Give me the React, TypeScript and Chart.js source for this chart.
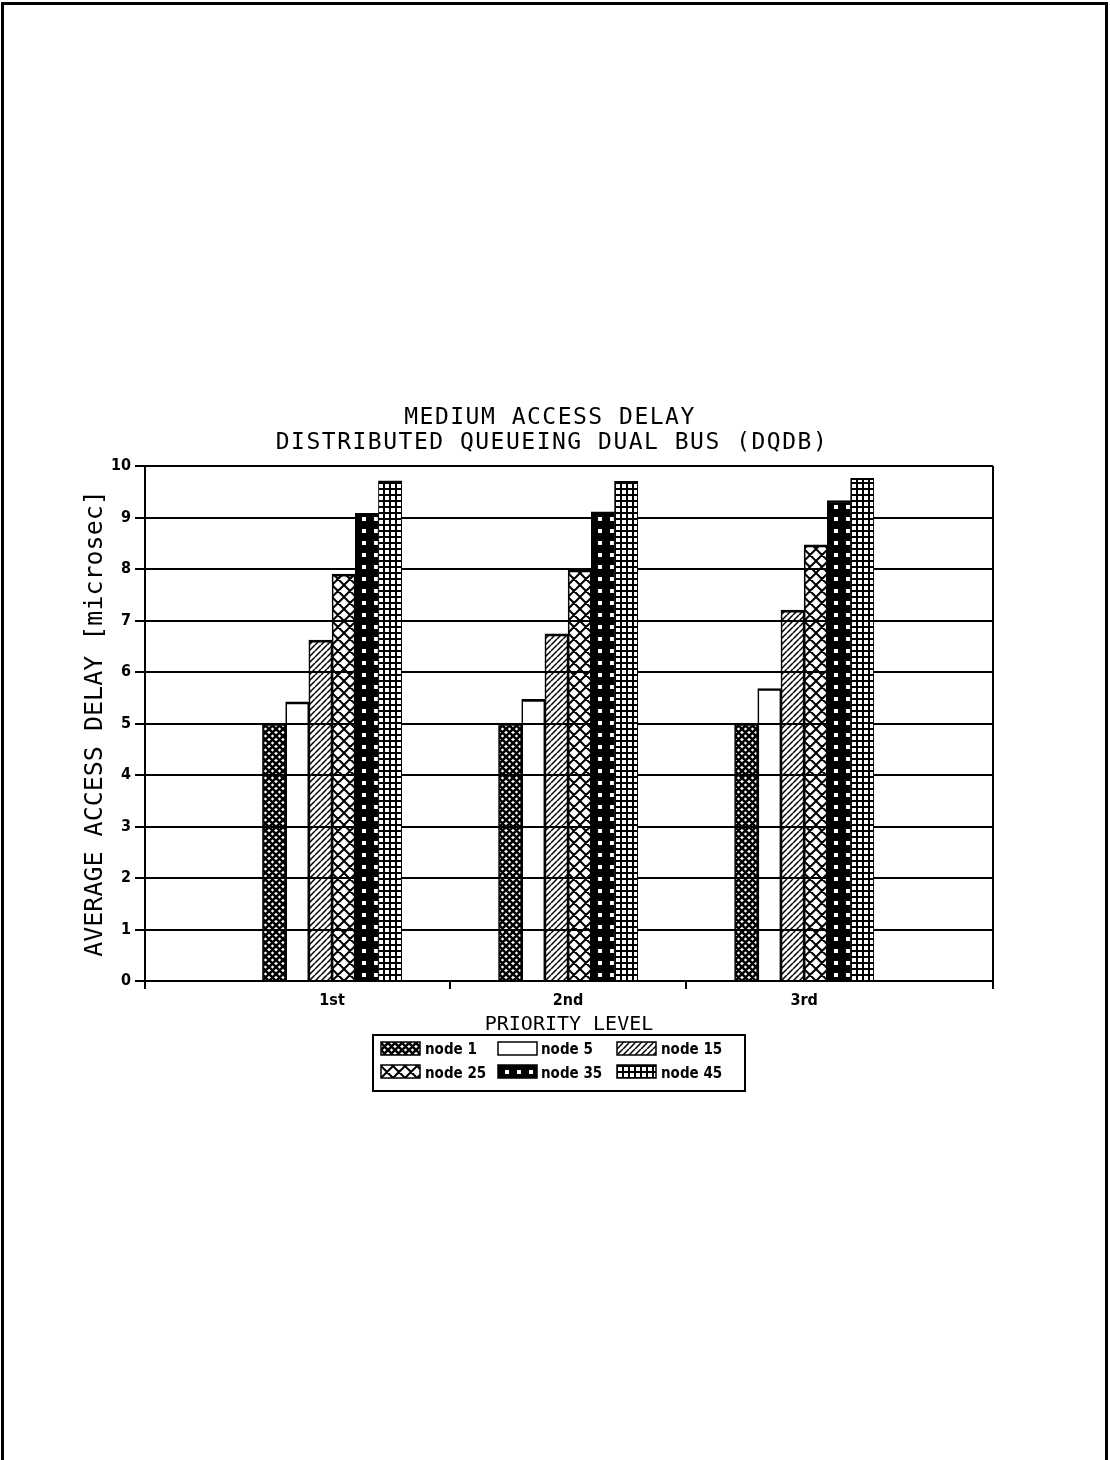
import React, { useEffect, useRef } from 'react';
import { Chart, registerables } from 'chart.js';

Chart.register(...registerables);

// ---- data ----
const priorityLevels = ['1st', '2nd', '3rd'];
const levelPositions = [1, 2, 3];
const seriesNames = ['node 1', 'node 5', 'node 15', 'node 25', 'node 35', 'node 45'];
const node1Delay = [5.0, 5.0, 5.0];
const node5Delay = [5.42, 5.47, 5.68];
const node15Delay = [6.62, 6.74, 7.2];
const node25Delay = [7.9, 7.98, 8.47];
const node35Delay = [9.08, 9.11, 9.33];
const node45Delay = [9.71, 9.7, 9.76];
const seriesValues = [node1Delay, node5Delay, node15Delay, node25Delay, node35Delay, node45Delay];
const xTickValues = [0.2076, 1, 1.5, 2, 2.5, 3, 3.8];
const titleLines = ['MEDIUM ACCESS DELAY', 'DISTRIBUTED QUEUEING DUAL BUS (DQDB)'];
const xAxisTitle = 'PRIORITY LEVEL';
const yAxisTitle = 'AVERAGE ACCESS DELAY [microsec]';

// ---- styles ----
type FillKind = 'denseCross' | 'empty' | 'hatch' | 'bigCross' | 'dots' | 'grid';
const seriesFills: FillKind[] = ['denseCross', 'empty', 'hatch', 'bigCross', 'dots', 'grid'];

const PAGE_W = 1110;
const PAGE_H = 1460;
const MONO = "'DejaVu Sans Mono', 'Liberation Mono', monospace";
const LABEL_FONT = "'DejaVu Sans Condensed', 'DejaVu Sans', sans-serif";
const INK = '#000';

function diagonals(g: CanvasRenderingContext2D, w: number, h: number, both: boolean) {
  g.beginPath();
  for (let k = -1; k <= 1; k++) {
    g.moveTo(k * w, h);
    g.lineTo(k * w + w, 0);
    if (both) {
      g.moveTo(k * w, 0);
      g.lineTo(k * w + w, h);
    }
  }
  g.stroke();
}

function makeFill(kind: FillKind): CanvasPattern | string {
  if (kind === 'empty') return 'rgba(255,255,255,0)';
  const size: Record<string, [number, number]> = {
    denseCross: [7, 7],
    hatch: [6, 6],
    bigCross: [12, 12],
    dots: [12, 12],
    grid: [6, 6],
  };
  const [w, h] = size[kind];
  const c = document.createElement('canvas');
  c.width = w;
  c.height = h;
  const g = c.getContext('2d')!;
  g.strokeStyle = INK;
  g.fillStyle = INK;
  if (kind === 'denseCross') {
    g.lineWidth = 2.6;
    diagonals(g, w, h, true);
  } else if (kind === 'hatch') {
    g.lineWidth = 1.5;
    diagonals(g, w, h, false);
  } else if (kind === 'bigCross') {
    g.lineWidth = 2;
    diagonals(g, w, h, true);
  } else if (kind === 'dots') {
    g.fillRect(0, 0, w, h);
    g.fillStyle = '#fff';
    g.fillRect(7, 4, 4, 4);
  } else if (kind === 'grid') {
    g.fillRect(0, 0, w, h);
    g.fillStyle = '#fff';
    g.fillRect(1, 1, 4, 4);
  }
  return g.createPattern(c, 'repeat')!;
}

function isPattern(v: unknown): v is CanvasPattern {
  return typeof CanvasPattern !== 'undefined' && v instanceof CanvasPattern;
}

// Anchor every bar's fill pattern at the bar's own lower-left corner.
const patternAnchor = {
  id: 'patternAnchor',
  beforeDatasetsDraw(chart: any) {
    const bottom = chart.chartArea.bottom;
    chart.data.datasets.forEach((_ds: any, di: number) => {
      const meta = chart.getDatasetMeta(di);
      meta.data.forEach((bar: any) => {
        const fill = bar.options && bar.options.backgroundColor;
        if (isPattern(fill)) {
          fill.setTransform(new DOMMatrix([1, 0, 0, 1, Math.round(bar.x - bar.width / 2), Math.round(bottom)]));
        }
      });
    });
  },
};

// Page frame, plot frame, title and pattern legend.
const decorations = {
  id: 'decorations',
  afterDraw(chart: any) {
    const ctx: CanvasRenderingContext2D = chart.ctx;
    const area = chart.chartArea;
    ctx.save();

    // right edge of the plot frame
    ctx.strokeStyle = INK;
    ctx.lineWidth = 2;
    ctx.beginPath();
    ctx.moveTo(area.right, area.top);
    ctx.lineTo(area.right, area.bottom);
    ctx.stroke();

    // page frame
    ctx.lineWidth = 3;
    ctx.beginPath();
    ctx.moveTo(2.5, PAGE_H);
    ctx.lineTo(2.5, 3.5);
    ctx.lineTo(1106.5, 3.5);
    ctx.lineTo(1106.5, PAGE_H);
    ctx.stroke();

    // title
    ctx.fillStyle = INK;
    ctx.font = `23px ${MONO}`;
    (ctx as any).letterSpacing = '1.5px';
    ctx.textAlign = 'center';
    ctx.textBaseline = 'alphabetic';
    ctx.fillText(titleLines[0], 550, 423.5);
    ctx.fillText(titleLines[1], 552, 448.5);
    (ctx as any).letterSpacing = '0px';

    // legend
    const box = { x: 373, y: 1035, w: 372, h: 56 };
    ctx.lineWidth = 2;
    ctx.strokeRect(box.x, box.y, box.w, box.h);
    const colSwatch = [381, 498, 617];
    const colText = [425, 541, 661];
    const rowTop = [1042, 1065];
    const rowBase = [1054, 1078];
    ctx.font = `bold 15px ${LABEL_FONT}`;
    ctx.textAlign = 'left';
    seriesNames.forEach((name, i) => {
      const col = i % 3;
      const row = Math.floor(i / 3);
      const sx = colSwatch[col];
      const sy = rowTop[row];
      const fill = makeFill(seriesFills[i]);
      if (isPattern(fill)) fill.setTransform(new DOMMatrix([1, 0, 0, 1, sx, sy + 1]));
      ctx.fillStyle = fill as any;
      ctx.fillRect(sx, sy, 39, 13);
      ctx.lineWidth = 1.5;
      ctx.strokeRect(sx, sy, 39, 13);
      ctx.fillStyle = INK;
      ctx.fillText(name, colText[col], rowBase[row]);
    });
    ctx.restore();
  },
};

export default function App() {
  const canvasRef = useRef<HTMLCanvasElement | null>(null);

  useEffect(() => {
    const canvas = canvasRef.current;
    if (!canvas) return;

    const datasets = seriesNames.map((name, s) => ({
      label: name,
      data: levelPositions.map((x, i) => ({ x, y: seriesValues[s][i] })),
      backgroundColor: levelPositions.map(() => makeFill(seriesFills[s])),
      borderColor: INK,
      borderWidth: { top: 2, left: 1, right: 1, bottom: 0 },
      borderSkipped: 'start',
      barThickness: 23.2,
    }));

    const tickFont = { family: LABEL_FONT, size: 16, weight: 'bold' as const };

    const chart = new Chart(canvas, {
      type: 'bar',
      data: { datasets } as any,
      plugins: [patternAnchor, decorations],
      options: {
        responsive: false,
        animation: false,
        devicePixelRatio: 1,
        layout: { padding: { left: 80, right: 117, top: 466, bottom: 423 } },
        plugins: {
          legend: { display: false },
          title: { display: false },
          tooltip: { enabled: false },
        },
        scales: {
          x: {
            type: 'linear',
            min: xTickValues[0],
            max: xTickValues[xTickValues.length - 1],
            offset: false,
            afterBuildTicks: (scale: any) => {
              scale.ticks = xTickValues.map((value) => ({ value }));
            },
            afterFit: (scale: any) => {
              scale.height = 56;
            },
            grid: {
              offset: false,
              drawOnChartArea: false,
              drawTicks: true,
              tickLength: 8,
              lineWidth: 2,
              color: (c: any) =>
                c.tick && Number.isInteger(c.tick.value) ? 'rgba(0,0,0,0)' : INK,
            },
            border: { display: true, color: INK, width: 2 },
            ticks: {
              autoSkip: false,
              maxRotation: 0,
              padding: 2,
              color: INK,
              font: tickFont,
              callback: (v: any) => {
                const idx = levelPositions.indexOf(Number(v));
                return idx >= 0 ? priorityLevels[idx] : '';
              },
            },
            title: {
              display: true,
              text: xAxisTitle,
              color: INK,
              font: { family: MONO, size: 20 },
              padding: { top: 0, bottom: 0 },
            },
          },
          y: {
            min: 0,
            max: 10,
            afterFit: (scale: any) => {
              scale.width = 65;
            },
            grid: { color: INK, lineWidth: 2, tickLength: 10, drawTicks: true },
            border: { display: true, color: INK, width: 2 },
            ticks: { stepSize: 1, padding: 4, color: INK, font: tickFont },
            title: {
              display: true,
              text: yAxisTitle,
              color: INK,
              font: { family: MONO, size: 25 },
              padding: { top: 0, bottom: 0 },
            },
          },
        },
      } as any,
    });

    return () => chart.destroy();
  }, []);

  return (
    <div style={{ position: 'absolute', left: 0, top: 0, width: PAGE_W, height: PAGE_H, background: '#fff' }}>
      <canvas ref={canvasRef} width={PAGE_W} height={PAGE_H} style={{ display: 'block' }} />
    </div>
  );
}
